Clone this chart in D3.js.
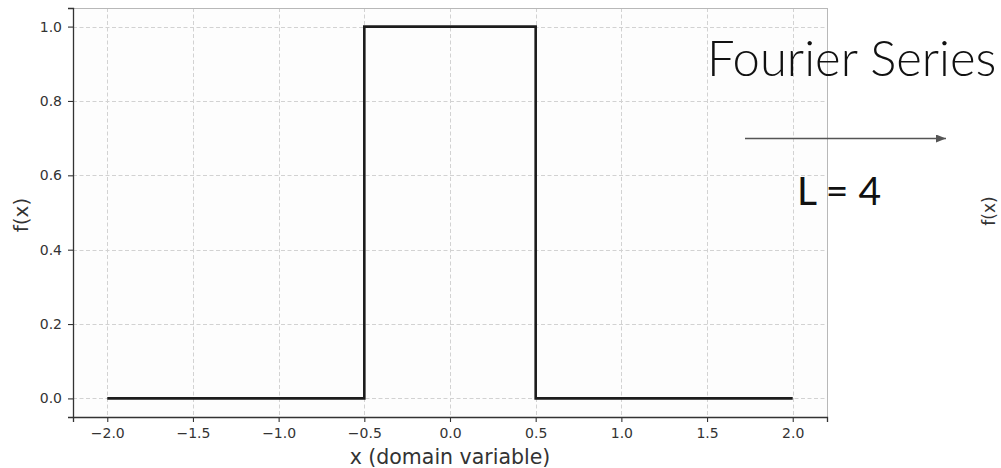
<!DOCTYPE html>
<html>
<head>
<meta charset="utf-8">
<script src="https://cdn.jsdelivr.net/npm/d3@7"></script>
<style>
  html, body { margin: 0; padding: 0; background: #fff; }
  svg { display: block; }
  .tick text { font-family: "DejaVu Sans", sans-serif; }
</style>
</head>
<body>
<svg id="chart" width="1001" height="468"></svg>
<script>
// Rectangular pulse: f(x) = 1 for |x| < 0.5, 0 elsewhere on [-2, 2]
const pulseX = [-2.0, -0.5, -0.5, 0.5, 0.5, 2.0];
const pulseY = [0, 0, 1, 1, 0, 0];

const xTicks = [-2.0, -1.5, -1.0, -0.5, 0.0, 0.5, 1.0, 1.5, 2.0];
const yTicks = [0.0, 0.2, 0.4, 0.6, 0.8, 1.0];

const xDomain = [-2.2, 2.2];
const yDomain = [-0.05, 1.05];

const titleText = "Fourier Series";
const periodText = "L = 4";
const xLabel = "x (domain variable)";
const yLabel = "f(x)";

const svg = d3.select("#chart");
const plot = { left: 73, right: 827, top: 8, bottom: 417 };

const x = d3.scaleLinear().domain(xDomain).range([plot.left, plot.right]);
const y = d3.scaleLinear().domain(yDomain).range([plot.bottom, plot.top]);

// axes background
svg.append("rect")
  .attr("x", plot.left).attr("y", plot.top)
  .attr("width", plot.right - plot.left).attr("height", plot.bottom - plot.top)
  .attr("fill", "#fdfdfd");

// dashed grid
const grid = svg.append("g").attr("stroke", "#d2d2d2").attr("stroke-width", 1)
  .attr("stroke-dasharray", "4,2.5").attr("fill", "none");
grid.selectAll("line.gx").data(xTicks).join("line")
  .attr("x1", d => Math.round(x(d)) + 0.5).attr("x2", d => Math.round(x(d)) + 0.5)
  .attr("y1", plot.top).attr("y2", plot.bottom);
grid.selectAll("line.gy").data(yTicks).join("line")
  .attr("y1", d => Math.round(y(d)) + 0.5).attr("y2", d => Math.round(y(d)) + 0.5)
  .attr("x1", plot.left).attr("x2", plot.right);

// light top and right spines
svg.append("line").attr("x1", plot.left).attr("x2", plot.right)
  .attr("y1", plot.top + 0.5).attr("y2", plot.top + 0.5).attr("stroke", "#b8b8b8");
svg.append("line").attr("x1", plot.right + 0.5).attr("x2", plot.right + 0.5)
  .attr("y1", plot.top).attr("y2", plot.bottom).attr("stroke", "#b8b8b8");

// the pulse
const pts = pulseX.map((v, i) => [v, pulseY[i]]);
svg.append("path")
  .datum(pts)
  .attr("fill", "none")
  .attr("stroke", "#1c1c1c")
  .attr("stroke-width", 2.6)
  .attr("stroke-linejoin", "miter")
  .attr("d", d3.line().x(d => x(d[0])).y(d => y(d[1])));

// axes
const fmt = d3.format(".1f");
const xAxis = svg.append("g")
  .attr("transform", `translate(0,${plot.bottom})`)
  .call(d3.axisBottom(x).tickValues(xTicks).tickFormat(fmt).tickSize(5).tickPadding(6));
const yAxis = svg.append("g")
  .attr("transform", `translate(${plot.left},0)`)
  .call(d3.axisLeft(y).tickValues(yTicks).tickFormat(fmt).tickSize(5).tickPadding(6));

[xAxis, yAxis].forEach(g => {
  g.select(".domain").attr("stroke", "#333").attr("stroke-width", 1.3);
  g.selectAll(".tick line").attr("stroke", "#333").attr("stroke-width", 1.1);
  g.selectAll(".tick text").attr("fill", "#333").style("font-size", "14px");
});

// axis labels
svg.append("text")
  .attr("x", x(0)).attr("y", 464)
  .attr("text-anchor", "middle")
  .attr("font-family", "DejaVu Sans, sans-serif")
  .attr("font-size", 20.5).attr("fill", "#333")
  .text(xLabel);

svg.append("text")
  .attr("transform", "translate(28,215) rotate(-90)")
  .attr("text-anchor", "middle")
  .attr("font-family", "DejaVu Sans, sans-serif")
  .attr("font-size", 20).attr("fill", "#333")
  .text(yLabel);

// label of the neighbouring panel at the right edge
svg.append("text")
  .attr("transform", "translate(995,211) rotate(-90)")
  .attr("text-anchor", "middle")
  .attr("font-family", "DejaVu Sans, sans-serif")
  .attr("font-size", 17).attr("fill", "#333")
  .text(yLabel);

// annotation: title, arrow, period
svg.append("text")
  .attr("x", 707).attr("y", 76)
  .attr("font-family", "Lato, sans-serif")
  .attr("font-weight", 300)
  .attr("font-size", 49).attr("fill", "#111")
  .text(titleText);

svg.append("defs").append("marker")
  .attr("id", "head").attr("viewBox", "0 0 10 8")
  .attr("refX", 10).attr("refY", 4)
  .attr("markerWidth", 10).attr("markerHeight", 8)
  .attr("markerUnits", "userSpaceOnUse").attr("orient", "auto")
  .append("path").attr("d", "M0,0 L10,4 L0,8 Z").attr("fill", "#555");

svg.append("line")
  .attr("x1", 745).attr("x2", 946).attr("y1", 138.5).attr("y2", 138.5)
  .attr("stroke", "#555").attr("stroke-width", 1.5)
  .attr("marker-end", "url(#head)");

svg.append("text")
  .attr("x", 797).attr("y", 205)
  .attr("font-family", "Lato, sans-serif")
  .attr("font-weight", 400)
  .attr("font-size", 39).attr("fill", "#111")
  .text(periodText);
</script>
</body>
</html>
